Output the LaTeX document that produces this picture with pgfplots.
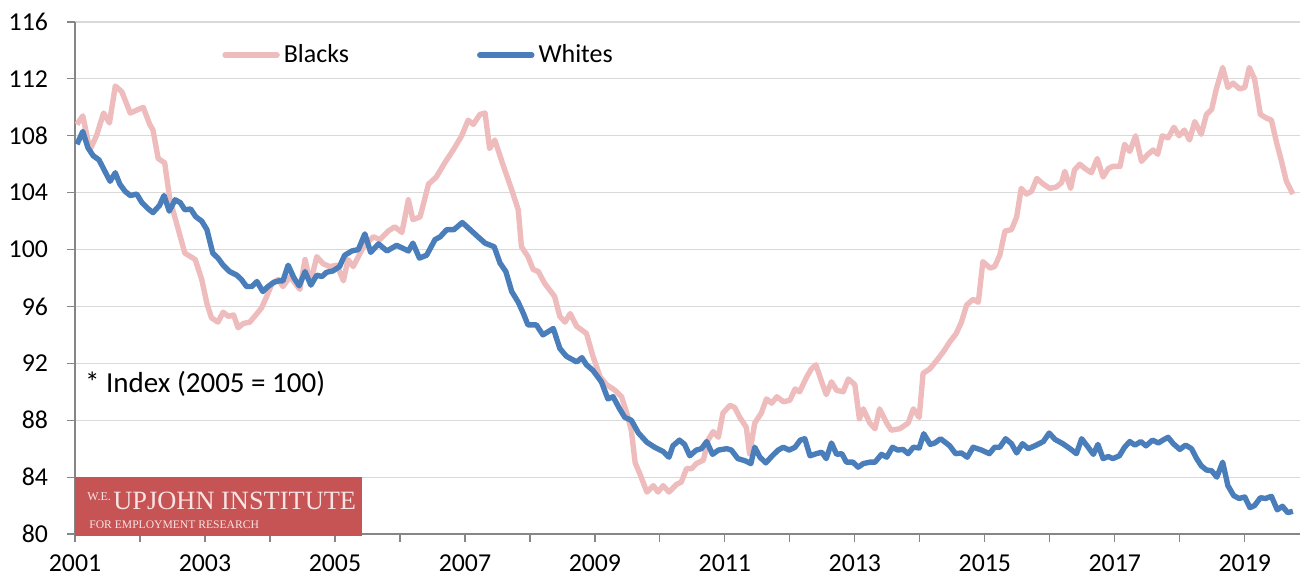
\documentclass[border=0pt]{standalone}
\usepackage{fontspec}
\setmainfont{Carlito}
\newfontfamily\seriffont{Liberation Serif}
\usepackage{pgfplots}
\pgfplotsset{compat=1.18}
\definecolor{pinkline}{RGB}{238,188,188}
\definecolor{blueline}{RGB}{74,126,187}
\definecolor{gridgray}{RGB}{217,217,217}
\definecolor{axisgray}{RGB}{134,134,134}
\definecolor{logored}{RGB}{198,84,84}
\definecolor{logotext}{RGB}{248,228,228}
\begin{document}
\begin{tikzpicture}
\useasboundingbox (-37.5pt,-22pt) rectangle (614.5pt,267pt);
\begin{axis}[
  at={(0pt,0pt)}, anchor=south west,
  scale only axis, width=612.5pt, height=256pt,
  xmin=2001, xmax=2019.85, ymin=80, ymax=116,
  axis x line=bottom, axis y line=left,
  axis line style={-, axisgray, line width=0.6pt},
  xtick={2001,2003,2005,2007,2009,2011,2013,2015,2017,2019},
  xticklabels={2001,2003,2005,2007,2009,2011,2013,2015,2017,2019},
  minor xtick={2002,2004,2006,2008,2010,2012,2014,2016,2018},
  ytick={80,84,88,92,96,100,104,108,112,116},
  yticklabels={80,84,88,92,96,100,104,108,112,116},
  tick align=outside,
  major tick length=4pt, minor tick length=4pt,
  tick style={axisgray, line width=0.6pt},
  ymajorgrids, grid style={gridgray, line width=0.6pt},
  tick label style={font=\fontsize{12.9}{14}\selectfont, text=black},
  yticklabel style={xshift=-6pt},
  xticklabel style={yshift=-3pt},
  legend columns=2,
  legend style={at={(0.12,0.9355)}, anchor=west, draw=none, fill=none, inner sep=0pt,
    font=\fontsize{13}{15}\selectfont,
    /tikz/every even column/.append style={column sep=62pt}},
  legend image code/.code={\draw[#1, line cap=round] (0pt,0pt) -- (26pt,0pt);},
]
\addplot[pinkline, line width=2.7pt, line join=round] coordinates {
(2001.03,108.8) (2001.12,109.4) (2001.23,107.0) (2001.33,108.0) (2001.44,109.6) (2001.53,108.9)
(2001.62,111.5) (2001.72,111.1) (2001.85,109.6) (2002.05,110.0) (2002.15,108.8) (2002.20,108.4)
(2002.28,106.4) (2002.38,106.1) (2002.46,103.5) (2002.56,101.9) (2002.69,99.75) (2002.85,99.3)
(2002.95,97.9) (2003.03,96.2) (2003.10,95.2) (2003.20,94.9) (2003.28,95.6) (2003.36,95.3)
(2003.44,95.4) (2003.51,94.5) (2003.59,94.8) (2003.69,94.9) (2003.80,95.5) (2003.87,95.9)
(2003.95,96.7) (2004.03,97.6) (2004.13,97.9) (2004.20,97.4) (2004.31,98.1) (2004.46,97.2)
(2004.54,99.3) (2004.62,97.6) (2004.72,99.5) (2004.82,99.0) (2004.92,98.8) (2005.03,98.9)
(2005.13,97.8) (2005.20,99.3) (2005.28,98.8) (2005.44,100.2) (2005.59,100.9) (2005.69,100.7)
(2005.82,101.3) (2005.92,101.6) (2006.03,101.2) (2006.13,103.5) (2006.20,102.1) (2006.31,102.3)
(2006.44,104.6) (2006.56,105.1) (2006.69,106.1) (2006.82,107.0) (2006.95,108.0) (2007.05,109.1)
(2007.13,108.8) (2007.23,109.5) (2007.31,109.6) (2007.38,107.1) (2007.46,107.7) (2007.59,105.9)
(2007.72,104.2) (2007.82,102.8) (2007.87,100.2) (2007.97,99.5) (2008.05,98.6) (2008.13,98.45)
(2008.23,97.6) (2008.38,96.7) (2008.46,95.3) (2008.54,94.9) (2008.62,95.5) (2008.72,94.6)
(2008.87,94.1) (2008.97,92.5) (2009.08,91.05) (2009.18,90.5) (2009.31,90.1) (2009.41,89.65)
(2009.49,88.5) (2009.56,87.3) (2009.62,85.0) (2009.69,84.25) (2009.80,82.95) (2009.90,83.4)
(2009.97,82.95) (2010.05,83.4) (2010.14,82.95) (2010.26,83.5) (2010.33,83.65) (2010.41,84.6)
(2010.49,84.6) (2010.56,84.95) (2010.67,85.2) (2010.74,86.6) (2010.82,87.2) (2010.90,86.8)
(2010.97,88.5) (2011.08,89.05) (2011.15,88.9) (2011.23,88.2) (2011.33,87.5) (2011.38,85.65)
(2011.46,87.8) (2011.56,88.5) (2011.64,89.5) (2011.72,89.2) (2011.80,89.65) (2011.90,89.3)
(2012.00,89.4) (2012.08,90.2) (2012.15,90.0) (2012.26,91.05) (2012.33,91.6) (2012.40,91.9)
(2012.49,90.7) (2012.56,89.8) (2012.64,90.7) (2012.72,90.1) (2012.82,90.0) (2012.90,90.9)
(2013.00,90.5) (2013.07,88.1) (2013.13,88.8) (2013.23,87.8) (2013.31,87.4) (2013.38,88.8)
(2013.49,87.8) (2013.56,87.3) (2013.69,87.4) (2013.82,87.8) (2013.90,88.8) (2013.99,88.2)
(2014.05,91.3) (2014.15,91.6) (2014.26,92.2) (2014.36,92.8) (2014.46,93.5) (2014.56,94.1)
(2014.64,94.9) (2014.72,96.1) (2014.82,96.5) (2014.90,96.3) (2014.97,99.15) (2015.08,98.7)
(2015.15,98.8) (2015.23,99.6) (2015.31,101.3) (2015.41,101.4) (2015.49,102.3) (2015.56,104.3)
(2015.64,103.9) (2015.72,104.1) (2015.80,105.0) (2015.90,104.6) (2016.00,104.3) (2016.10,104.4)
(2016.18,104.7) (2016.23,105.5) (2016.32,104.3) (2016.38,105.6) (2016.46,106.0) (2016.54,105.7)
(2016.64,105.4) (2016.73,106.4) (2016.82,105.1) (2016.90,105.7) (2016.97,105.85) (2017.08,105.85)
(2017.15,107.4) (2017.23,106.9) (2017.32,108.0) (2017.41,106.2) (2017.51,106.7) (2017.59,107.0)
(2017.66,106.7) (2017.73,108.0) (2017.82,107.85) (2017.91,108.6) (2017.99,108.0) (2018.07,108.4)
(2018.15,107.7) (2018.23,109.0) (2018.33,108.1) (2018.41,109.5) (2018.49,109.85) (2018.56,111.25)
(2018.66,112.8) (2018.74,111.4) (2018.82,111.7) (2018.92,111.3) (2019.00,111.4) (2019.07,112.8)
(2019.15,112.0) (2019.24,109.5) (2019.33,109.25) (2019.41,109.1) (2019.49,107.5) (2019.56,106.3)
(2019.64,104.8) (2019.74,103.9)
};
\addlegendentry{Blacks}
\addplot[blueline, line width=2.7pt, line join=round] coordinates {
(2001.03,107.4) (2001.12,108.3) (2001.20,107.15) (2001.28,106.6) (2001.37,106.3) (2001.46,105.5)
(2001.54,104.8) (2001.62,105.4) (2001.69,104.6) (2001.77,104.1) (2001.85,103.8) (2001.95,103.9)
(2002.03,103.3) (2002.13,102.85) (2002.20,102.6) (2002.30,103.1) (2002.37,103.8) (2002.45,102.7)
(2002.54,103.5) (2002.62,103.3) (2002.69,102.8) (2002.78,102.85) (2002.86,102.3) (2002.95,102.0)
(2003.03,101.4) (2003.12,99.75) (2003.20,99.4) (2003.28,98.9) (2003.38,98.45) (2003.49,98.2)
(2003.56,97.9) (2003.64,97.4) (2003.72,97.4) (2003.80,97.75) (2003.89,97.05) (2003.97,97.4)
(2004.06,97.7) (2004.14,97.8) (2004.20,97.8) (2004.28,98.9) (2004.37,98.0) (2004.45,97.45)
(2004.54,98.45) (2004.63,97.5) (2004.72,98.2) (2004.80,98.1) (2004.87,98.4) (2004.97,98.5)
(2005.07,98.8) (2005.15,99.6) (2005.26,99.9) (2005.36,100.0) (2005.46,101.1) (2005.55,99.8)
(2005.67,100.4) (2005.80,99.9) (2005.95,100.3) (2006.13,99.9) (2006.20,100.45) (2006.30,99.4)
(2006.41,99.6) (2006.54,100.7) (2006.62,100.9) (2006.72,101.4) (2006.83,101.4) (2006.96,101.9)
(2007.08,101.4) (2007.20,100.9) (2007.31,100.45) (2007.45,100.2) (2007.54,99.05) (2007.63,98.45)
(2007.72,97.05) (2007.82,96.3) (2007.90,95.5) (2007.97,94.7) (2008.10,94.7) (2008.20,94.0)
(2008.36,94.45) (2008.46,93.05) (2008.56,92.5) (2008.72,92.1) (2008.80,92.4) (2008.87,91.9)
(2008.97,91.5) (2009.10,90.7) (2009.20,89.5) (2009.28,89.65) (2009.38,88.8) (2009.46,88.2)
(2009.56,88.0) (2009.67,87.1) (2009.80,86.45) (2009.92,86.1) (2010.05,85.8) (2010.14,85.4)
(2010.20,86.2) (2010.30,86.6) (2010.38,86.3) (2010.46,85.5) (2010.56,85.9) (2010.64,86.0)
(2010.72,86.5) (2010.81,85.6) (2010.90,85.9) (2011.03,86.0) (2011.10,85.9) (2011.20,85.3)
(2011.31,85.15) (2011.40,84.95) (2011.46,86.1) (2011.54,85.4) (2011.63,85.0) (2011.73,85.5)
(2011.82,85.9) (2011.90,86.1) (2011.99,85.9) (2012.08,86.1) (2012.16,86.6) (2012.23,86.7)
(2012.31,85.5) (2012.41,85.65) (2012.49,85.75) (2012.56,85.3) (2012.64,86.4) (2012.72,85.6)
(2012.80,85.65) (2012.87,85.05) (2012.97,85.05) (2013.05,84.7) (2013.13,84.95) (2013.23,85.05)
(2013.31,85.05) (2013.41,85.6) (2013.49,85.4) (2013.58,86.1) (2013.66,85.9) (2013.74,85.95)
(2013.82,85.65) (2013.90,86.1) (2013.99,86.05) (2014.06,87.05) (2014.16,86.3) (2014.23,86.4)
(2014.32,86.7) (2014.46,86.2) (2014.55,85.65) (2014.64,85.7) (2014.73,85.4) (2014.82,86.1)
(2014.95,85.9) (2015.07,85.65) (2015.15,86.1) (2015.23,86.1) (2015.32,86.7) (2015.41,86.35)
(2015.49,85.7) (2015.58,86.35) (2015.67,86.0) (2015.77,86.2) (2015.90,86.5) (2015.99,87.1)
(2016.08,86.65) (2016.20,86.35) (2016.31,86.0) (2016.41,85.65) (2016.49,86.7) (2016.59,86.1)
(2016.67,85.6) (2016.74,86.3) (2016.82,85.3) (2016.90,85.45) (2016.97,85.3) (2017.07,85.5)
(2017.15,86.1) (2017.23,86.5) (2017.31,86.25) (2017.40,86.5) (2017.48,86.2) (2017.58,86.6)
(2017.67,86.4) (2017.74,86.6) (2017.82,86.8) (2017.90,86.35) (2018.00,85.95) (2018.09,86.25)
(2018.18,86.0) (2018.26,85.3) (2018.33,84.8) (2018.41,84.5) (2018.49,84.45) (2018.57,84.0)
(2018.66,85.05) (2018.74,83.4) (2018.83,82.7) (2018.91,82.5) (2019.00,82.6) (2019.08,81.85)
(2019.15,82.0) (2019.24,82.55) (2019.32,82.5) (2019.41,82.65) (2019.50,81.7) (2019.58,81.95)
(2019.66,81.5) (2019.74,81.6)
};
\addlegendentry{Whites}
\node[anchor=west, inner sep=0pt, font=\fontsize{14.5}{16}\selectfont] at (axis description cs:0.008,0.293) {* Index (2005 = 100)};
\end{axis}
\fill[logored] (0pt,-1pt) rectangle (143.5pt,28.5pt);
\node[anchor=base west, inner sep=0pt, text=logotext] at (6pt,17pt) {\seriffont\fontsize{6}{7}\selectfont W.E.};
\node[anchor=base west, inner sep=0pt, text=logotext] at (19pt,12.5pt) {\seriffont\fontsize{13.2}{15}\selectfont UPJOHN INSTITUTE};
\node[anchor=base west, inner sep=0pt, text=logotext] at (7pt,3pt) {\seriffont\fontsize{5.8}{7}\selectfont FOR EMPLOYMENT RESEARCH};
\end{tikzpicture}
\end{document}
